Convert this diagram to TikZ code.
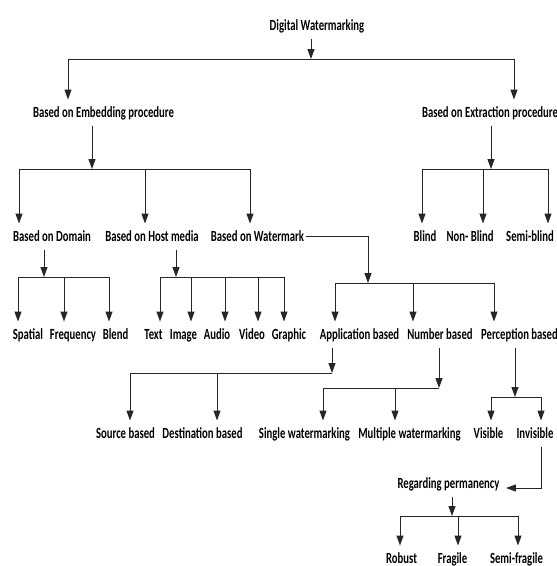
\documentclass[tikz,border=0pt]{standalone}
\usepackage{fontspec}
\setmainfont{Carlito}[FakeStretch=0.69]
\usetikzlibrary{arrows.meta}
\begin{document}
\begin{tikzpicture}[
		x=1pt,y=-1pt,
		lbl/.style={anchor=base,font=\fontsize{15.5}{18}\selectfont\bfseries,inner xsep=1pt,inner ysep=5pt,text height=12pt,text depth=3pt},
		arr/.style={-{Triangle[length=10pt,width=7pt]}},
		line width=1pt,draw=black!85
		]
		\useasboundingbox (0,0) rectangle (557,566);
		% labels
		\node[lbl] (dw) at (317,30) {Digital Watermarking};
		\node[lbl] (emb) at (103.5,117) {Based on Embedding procedure};
		\node[lbl] (ext) at (490,117) {Based on Extraction procedure};
		\node[lbl] (dom) at (52,241) {Based on Domain};
		\node[lbl] (host) at (152,241) {Based on Host media};
		\node[lbl] (wm) at (257.5,241) {Based on Watermark};
		\node[lbl] (blind) at (425,241) {Blind};
		\node[lbl] (nonblind) at (470,241) {Non- Blind};
		\node[lbl] (semiblind) at (530,241) {Semi-blind};
		\node[lbl] (spatial) at (28,339) {Spatial};
		\node[lbl] (freq) at (73,339) {Frequency};
		\node[lbl] (blend) at (115.5,339) {Blend};
		\node[lbl] (text) at (153.5,339) {Text};
		\node[lbl] (image) at (183.5,339) {Image};
		\node[lbl] (audio) at (217,339) {Audio};
		\node[lbl] (video) at (252,339) {Video};
		\node[lbl] (graphic) at (289,339) {Graphic};
		\node[lbl] (app) at (359.5,339) {Application based};
		\node[lbl] (num) at (440,339) {Number based};
		\node[lbl] (perc) at (519.5,339) {Perception based};
		\node[lbl] (src) at (125.5,438) {Source based};
		\node[lbl] (dest) at (202.5,438) {Destination based};
		\node[lbl] (single) at (304.5,438) {Single watermarking};
		\node[lbl] (multi) at (409.5,438) {Multiple watermarking};
		\node[lbl] (vis) at (488.5,438) {Visible};
		\node[lbl] (invis) at (535,438) {Invisible};
		\node[lbl] (reg) at (448.5,488) {Regarding permanency};
		\node[lbl] (robust) at (401.5,563) {Robust};
		\node[lbl] (fragile) at (452.5,563) {Fragile};
		\node[lbl] (semifragile) at (516.5,563) {Semi-fragile};
		% junctions
		\coordinate (j0) at (311,59);
		\coordinate (b0l) at (68,59);
		\coordinate (b0r) at (514,59);
		\coordinate (j1) at (92,169);
		\coordinate (b1l) at (19,169);
		\coordinate (b1m) at (145,169);
		\coordinate (b1r) at (250,169);
		\coordinate (j2) at (491,169);
		\coordinate (b2l) at (422,169);
		\coordinate (b2m) at (483,169);
		\coordinate (b2r) at (548,169);
		\coordinate (j3) at (44,277);
		\coordinate (b3l) at (18,277);
		\coordinate (b3m) at (64,277);
		\coordinate (b3r) at (109,277);
		\coordinate (j4) at (176,277);
		\coordinate (b4a) at (160,277);
		\coordinate (b4b) at (191,277);
		\coordinate (b4c) at (225,277);
		\coordinate (b4d) at (258,277);
		\coordinate (b4e) at (284,277);
		\coordinate (j5) at (368,283);
		\coordinate (b5l) at (335,283);
		\coordinate (b5m) at (413,283);
		\coordinate (b5r) at (494,283);
		\coordinate (j6) at (332,373);
		\coordinate (b6l) at (130,373);
		\coordinate (b6m) at (217,373);
		\coordinate (j7) at (439,388);
		\coordinate (b7l) at (323,388);
		\coordinate (b7m) at (395,388);
		\coordinate (j8) at (515,397);
		\coordinate (b8l) at (491,397);
		\coordinate (b8r) at (541,397);
		\coordinate (c9) at (541,488);
		\coordinate (j10) at (452,516);
		\coordinate (b10l) at (400,516);
		\coordinate (b10m) at (458,516);
		\coordinate (b10r) at (518,516);
		% digital watermarking
		\draw[arr] (dw.south -| j0) to (j0);
		\draw (b0l) to (b0r);
		\draw[arr] (b0l) to (b0l |- emb.north);
		\draw[arr] (b0r) to (b0r |- ext.north);
		% embedding
		\draw[arr] (emb.south -| j1) to (j1);
		\draw (b1l) to (b1r);
		\draw[arr] (b1l) to (b1l |- dom.north);
		\draw[arr] (b1m) to (b1m |- host.north);
		\draw[arr] (b1r) to (b1r |- wm.north);
		% extraction
		\draw[arr] (ext.south -| j2) to (j2);
		\draw (b2l) to (b2r);
		\draw[arr] (b2l) to (b2l |- blind.north);
		\draw[arr] (b2m) to (b2m |- nonblind.north);
		\draw[arr] (b2r) to (b2r |- semiblind.north);
		% domain
		\draw[arr] (dom.south -| j3) to (j3);
		\draw (b3l) to (b3r);
		\draw[arr] (b3l) to (b3l |- spatial.north);
		\draw[arr] (b3m) to (b3m |- freq.north);
		\draw[arr] (b3r) to (b3r |- blend.north);
		% host media
		\draw[arr] (host.south -| j4) to (j4);
		\draw (b4a) to (b4e);
		\draw[arr] (b4a) to (b4a |- text.north);
		\draw[arr] (b4b) to (b4b |- image.north);
		\draw[arr] (b4c) to (b4c |- audio.north);
		\draw[arr] (b4d) to (b4d |- video.north);
		\draw[arr] (b4e) to (b4e |- graphic.north);
		% watermark
		\draw[arr] (wm.east) -| (j5);
		\draw (b5l) to (b5r);
		\draw[arr] (b5l) to (b5l |- app.north);
		\draw[arr] (b5m) to (b5m |- num.north);
		\draw[arr] (b5r) to (b5r |- perc.north);
		% application
		\draw[arr] (app.south -| j6) to (j6);
		\draw (b6l) to (j6);
		\draw[arr] (b6l) to (b6l |- src.north);
		\draw[arr] (b6m) to (b6m |- dest.north);
		% number
		\draw[arr] (num.south -| j7) to (j7);
		\draw (b7l) to (j7);
		\draw[arr] (b7l) to (b7l |- single.north);
		\draw[arr] (b7m) to (b7m |- multi.north);
		% perception
		\draw[arr] (perc.south -| j8) to (j8);
		\draw (b8l) to (b8r);
		\draw[arr] (b8l) to (b8l |- vis.north);
		\draw[arr] (b8r) to (b8r |- invis.north);
		% invisible
		\draw[arr,shorten >=5pt] (invis.south -| c9) -- (c9) -- (c9 -| reg.east);
		% permanency
		\draw[arr] (reg.south -| j10) to (j10);
		\draw (b10l) to (b10r);
		\draw[arr] (b10l) to (b10l |- robust.north);
		\draw[arr] (b10m) to (b10m |- fragile.north);
		\draw[arr] (b10r) to (b10r |- semifragile.north);
	\end{tikzpicture}
\end{document}
